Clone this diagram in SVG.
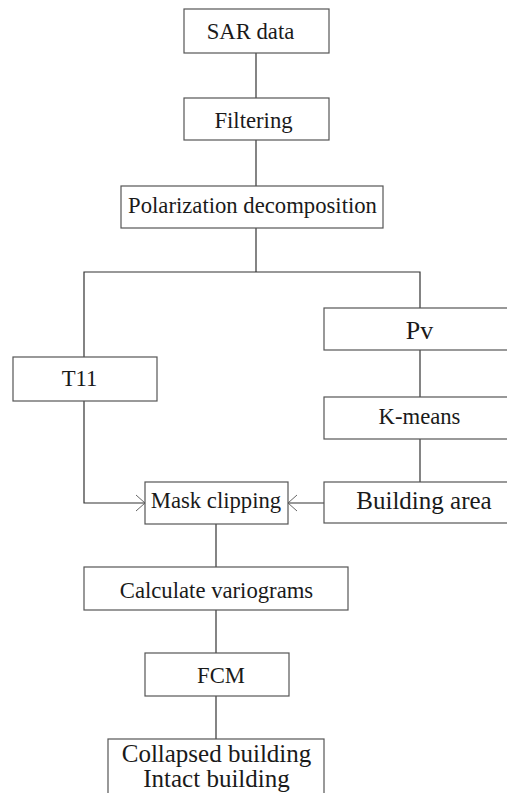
<svg xmlns="http://www.w3.org/2000/svg" width="507" height="793" viewBox="0 0 507 793">
<defs>
<style>
.box{fill:#fff;stroke:#555;stroke-width:1.2}
.t{font-family:"Liberation Serif","Times New Roman",serif;fill:#1a1a1a;text-anchor:middle;font-size:22.7px}
.big{font-size:25px}
.c{fill:none;stroke:#333;stroke-width:1.2}
</style>
<marker id="ah" viewBox="0 0 10 20" refX="10" refY="10" markerWidth="10" markerHeight="20" markerUnits="userSpaceOnUse" orient="auto">
<path d="M1,2 L10,10 L1,18" fill="none" stroke="#666" stroke-width="1"/>
</marker>
</defs>
<rect width="507" height="793" fill="#fff"/>
<g id="connectors">
<path class="c" d="M256,53V98"/>
<path class="c" d="M256,140V186"/>
<path class="c" d="M256,228V272"/>
<path class="c" d="M84,357V272H420V308"/>
<path class="c" d="M420,350V397"/>
<path class="c" d="M420,439V482"/>
<path class="c" d="M84,401V503H145" marker-end="url(#ah)"/>
<path class="c" d="M324,503H288" marker-end="url(#ah)"/>
<path class="c" d="M216,524V567"/>
<path class="c" d="M216,610V653"/>
<path class="c" d="M216,696V739"/>
</g>
<g id="sar"><rect class="box" x="184" y="9" width="145" height="44"/><text class="t" x="250.5" y="39">SAR data</text></g>
<g id="filtering"><rect class="box" x="184" y="98" width="145" height="42"/><text class="t" x="253.5" y="128">Filtering</text></g>
<g id="polarization"><rect class="box" x="121" y="186" width="262" height="42"/><text class="t" x="252.5" y="213">Polarization decomposition</text></g>
<g id="pv"><rect class="box" x="324" y="308" width="190" height="42"/><text class="t" x="419.5" y="339" style="font-size:26px">Pv</text></g>
<g id="t11"><rect class="box" x="13" y="357" width="144" height="44"/><text class="t" x="79.5" y="386">T11</text></g>
<g id="kmeans"><rect class="box" x="324" y="397" width="190" height="42"/><text class="t" x="419.5" y="424">K-means</text></g>
<g id="building"><rect class="box" x="324" y="482" width="190" height="41"/><text class="t big" x="424" y="509">Building area</text></g>
<g id="mask"><rect class="box" x="145" y="482" width="143" height="42"/><text class="t" x="216" y="508">Mask clipping</text></g>
<g id="variograms"><rect class="box" x="84" y="567" width="264" height="43"/><text class="t" x="216.5" y="598">Calculate variograms</text></g>
<g id="fcm"><rect class="box" x="145" y="653" width="144" height="43"/><text class="t" x="221" y="683">FCM</text></g>
<g id="result"><rect class="box" x="108" y="739" width="216" height="70"/><text class="t big" x="216.5" y="762">Collapsed building</text><text class="t big" x="216.5" y="787">Intact building</text></g>
</svg>
